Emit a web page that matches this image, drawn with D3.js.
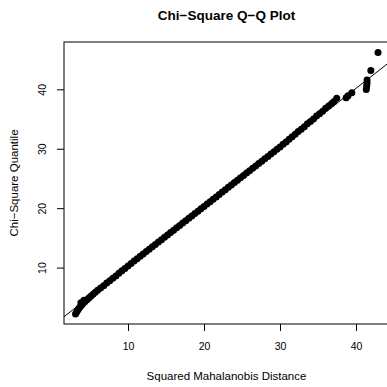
<html>
<head>
<style>
body { margin:0; background:white; }
</style>
</head>
<body>
<script src="https://d3js.org/d3.v7.min.js"></script>
<script>
// DATA - squared distances (x) and chi-square quantiles (y)
var distX = [3.10, 3.25, 3.40, 3.55, 3.70, 3.80, 3.90, 4.10, 4.20, 4.35, 4.60, 4.85, 5.10, 5.40, 5.70, 6.00,
  6.4, 6.8, 7.2, 7.6, 8.0, 8.4, 8.8, 9.2, 9.6, 10.0, 10.4, 10.8, 11.2, 11.6, 12.0, 12.4, 12.8, 13.2, 13.6,
  14.0, 14.4, 14.8, 15.2, 15.6, 16.0, 16.4, 16.8, 17.2, 17.6, 18.0, 18.4, 18.8, 19.2, 19.6, 20.0, 20.4,
  20.8, 21.2, 21.6, 22.0, 22.4, 22.8, 23.2, 23.6, 24.0, 24.4, 24.8, 25.2, 25.6, 26.0, 26.4, 26.8, 27.2,
  27.6, 28.0, 28.4, 28.8, 29.2, 29.6, 30.0, 30.4, 30.8, 31.2, 31.6, 32.0, 32.4, 32.8, 33.2, 33.6, 34.0,
  34.4, 34.8, 35.2, 35.6, 36.0, 36.4, 36.8, 37.1, 37.46, 38.7, 38.95, 39.45, 41.35, 41.4, 41.45, 41.45,
  41.95, 42.9];
var quantY = [2.20, 2.55, 2.85, 3.15, 3.40, 4.10, 3.70, 4.00, 4.50, 4.30, 4.60, 4.90, 5.20, 5.50, 5.85, 6.20,
  6.55, 6.95, 7.4, 7.8, 8.2, 8.6, 9.05, 9.45, 9.85, 10.25, 10.7, 11.1, 11.5, 11.9, 12.3, 12.7, 13.1, 13.5, 13.9,
  14.3, 14.7, 15.1, 15.5, 15.9, 16.3, 16.7, 17.1, 17.5, 17.9, 18.3, 18.7, 19.1, 19.5, 19.9, 20.3, 20.7,
  21.1, 21.5, 21.9, 22.3, 22.7, 23.1, 23.5, 23.9, 24.3, 24.7, 25.1, 25.5, 25.9, 26.3, 26.7, 27.1, 27.5,
  27.9, 28.3, 28.7, 29.1, 29.5, 29.9, 30.3, 30.75, 31.15, 31.6, 32.0, 32.45, 32.9, 33.3, 33.7, 34.2, 34.6,
  35.0, 35.5, 35.9, 36.3, 36.8, 37.2, 37.6, 37.95, 38.5, 38.6, 38.9, 39.4, 39.95, 40.5, 41.0, 41.55,
  43.15, 46.2];

// DATA - reference line (two ends), ticks, labels
var refLineX = [1.58, 44.34];
var refLineY = [1.73, 44.5];
var xTicks = [10, 20, 30, 40];
var yTicks = [10, 20, 30, 40];
var titleText = "Chi\u2212Square Q\u2212Q Plot";
var xLabel = "Squared Mahalanobis Distance";
var yLabel = "Chi\u2212Square Quantile";

var W = 387, H = 387;
var plotL = 64, plotR = 389, plotT = 42, plotB = 324;
var font = "'Liberation Sans', Arial, Helvetica, sans-serif";

var svg = d3.select("body").append("svg")
  .attr("width", W)
  .attr("height", H)
  .style("display", "block")
  .style("background-color", "white");

var x = d3.scaleLinear().domain([1.58, 44.34]).range([plotL, plotR]);
var y = d3.scaleLinear().domain([0.51, 47.96]).range([plotB, plotT]);

svg.append("clipPath").attr("id", "plotclip")
  .append("rect")
  .attr("x", plotL).attr("y", plotT)
  .attr("width", plotR - plotL).attr("height", plotB - plotT);

var plot = svg.append("g").attr("clip-path", "url(#plotclip)");

// points
plot.selectAll("circle")
  .data(d3.range(distX.length))
  .enter().append("circle")
  .attr("cx", function(i){ return x(distX[i]); })
  .attr("cy", function(i){ return y(quantY[i]); })
  .attr("r", 3.5)
  .style("fill", "black");

// reference line
plot.append("line")
  .attr("x1", x(refLineX[0])).attr("y1", y(refLineY[0]))
  .attr("x2", x(refLineX[1])).attr("y2", y(refLineY[1]))
  .style("stroke", "black")
  .style("stroke-width", 1);

// box
svg.append("rect")
  .attr("x", plotL).attr("y", plotT)
  .attr("width", plotR - plotL).attr("height", plotB - plotT)
  .style("fill", "none")
  .style("stroke", "black")
  .style("stroke-width", 1);

// x axis
var xAxis = d3.axisBottom(x).tickValues(xTicks).tickSize(7).tickPadding(12);
svg.append("g")
  .attr("transform", "translate(0," + plotB + ")")
  .call(xAxis)
  .call(function(g){ g.select(".domain").remove(); })
  .call(function(g){
    g.selectAll("text").style("font-family", font).style("font-size", "10.5px").attr("fill", "black");
    g.selectAll("line").attr("stroke", "black");
  });

// y axis (labels rotated, R style)
var yAxis = d3.axisLeft(y).tickValues(yTicks).tickSize(7);
var yg = svg.append("g")
  .attr("transform", "translate(" + plotL + ",0)")
  .call(yAxis)
  .call(function(g){ g.select(".domain").remove(); });
yg.selectAll("line").attr("stroke", "black");
yg.selectAll("text")
  .attr("x", null).attr("dy", null)
  .attr("transform", "translate(-18,0) rotate(-90)")
  .attr("text-anchor", "middle")
  .attr("y", 0)
  .style("font-family", font).style("font-size", "10.5px").attr("fill", "black");

// title and axis labels
svg.append("text")
  .attr("x", (plotL + plotR) / 2).attr("y", 20)
  .attr("text-anchor", "middle")
  .style("font-family", font).style("font-size", "13.5px").style("font-weight", "bold")
  .text(titleText);

svg.append("text")
  .attr("x", (plotL + plotR) / 2).attr("y", 380)
  .attr("text-anchor", "middle")
  .style("font-family", font).style("font-size", "11.5px")
  .text(xLabel);

svg.append("text")
  .attr("transform", "translate(18," + (plotT + plotB) / 2 + ") rotate(-90)")
  .attr("text-anchor", "middle")
  .style("font-family", font).style("font-size", "11.5px")
  .text(yLabel);
</script>
</body>
</html>
